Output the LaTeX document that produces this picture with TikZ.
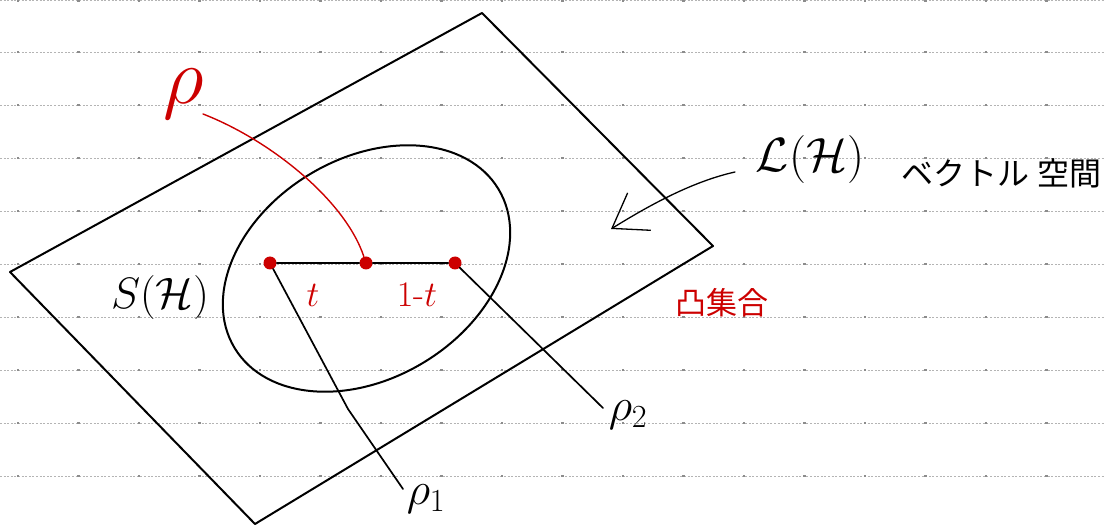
\RequirePackage{fix-cm}
\documentclass[tikz,border=0pt]{standalone}
\usepackage{fontspec}
\usepackage{amsmath,amssymb}
\usetikzlibrary{positioning, arrows.meta}
\newfontfamily\jpfont{Noto Sans CJK JP}
\definecolor{nRed}{HTML}{CC0000}
\definecolor{nRule}{HTML}{B4B4B4}
\definecolor{nMark}{HTML}{8C8C8C}

\begin{document}
\begin{tikzpicture}[x=1pt, y=-1pt,
  rule/.style={draw=nRule, line width=0.8pt, dash pattern=on 2pt off 1.6pt},
  pen/.style={draw=black, line width=2pt, line join=round},
  linepen/.style={draw=black, line width=1.7pt, line join=round, line cap=round},
  thinpen/.style={draw=black, line width=1.3pt, line cap=round},
  redpen/.style={draw=nRed, line width=1.4pt, line cap=round},
  dot/.style={circle, fill=nRed, inner sep=0pt, minimum size=13pt},
  lbl/.style={inner sep=1pt}]
  \useasboundingbox (0,0) rectangle (1105,526);
  % notebook rules
  \foreach \y in {0.5,52,105,158,211,264,317,370,423,476} {
    \draw[rule] (0,\y) -- (1105,\y);
    \foreach \x in {18,78.5,...,1100}
      {\fill[nMark] (\x-1.2,\y-1.2) rectangle (\x+1.2,\y+1.2);}
  }
  % vector space L(H)
  \draw[pen] (482,13) -- (713,246) -- (255,524) -- (10,272) -- cycle;
  % convex set S(H)
  \draw[pen, rotate around={31:(366.5,268.5)}] (366.5,268.5) ellipse (154 and 110);
  % states
  \node[dot] (p1) at (270,263) {};
  \node[dot] (p) at (366,263) {};
  \node[dot] (p2) at (455,263) {};
  \draw[thinpen] (p1) -- (p) -- (p2);
  % labels
  \node[lbl, text=nRed, font=\fontsize{80}{80}\selectfont] (rho) at (184,94) {$\rho$};
  \node[lbl, font=\fontsize{48}{48}\selectfont] (LH) at (810,160) {$\mathcal{L}(\mathcal{H})$};
  \node[lbl, font=\fontsize{32}{32}\jpfont] (vs) at (1001,173) {ベクトル\hspace{0.25em}空間};
  \node[lbl, text=nRed, font=\fontsize{31}{31}\jpfont] (cvx) at (722,303) {凸集合};
  \node[lbl, font=\fontsize{44}{44}\selectfont] (SH) at (160,298) {$S(\mathcal{H})$};
  \node[lbl, text=nRed, font=\fontsize{36}{36}\selectfont] (t) at (313,295) {$t$};
  \node[lbl, text=nRed, font=\fontsize{36}{36}\selectfont] (s) at (417,295) {$1$-$t$};
  \node[lbl, font=\fontsize{46}{46}\selectfont] (rho1) at (426,499) {$\rho_1$};
  \node[lbl, font=\fontsize{46}{46}\selectfont] (rho2) at (628,415) {$\rho_2$};
  % connectors
  \coordinate (rhotail) at (203,114);
  \coordinate (e1) at (403,489);
  \coordinate (e2) at (603,408);
  \coordinate (atail) at (735,172);
  \coordinate (ahead) at (611,229);
  \draw[redpen] (rhotail) .. controls (270,140) and (345,200) .. (p);
  \draw[linepen] (p1) -- (348,409) -- (e1);
  \draw[linepen] (p2) -- (e2);
  \draw[thinpen, -{Straight Barb[length=32pt, width=44pt]}] (atail) .. controls (690,182) and (645,208) .. (ahead);
\end{tikzpicture}
\end{document}
